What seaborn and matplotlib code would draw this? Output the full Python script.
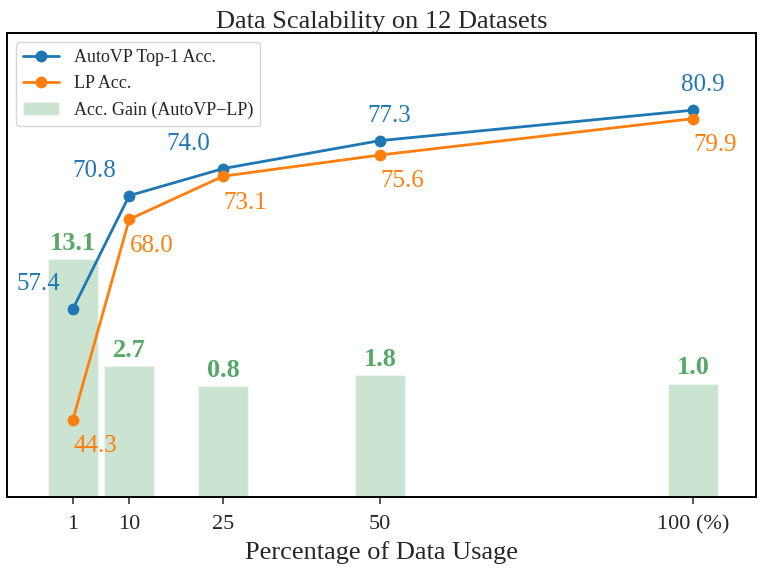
import matplotlib
matplotlib.use("Agg")
import matplotlib.pyplot as plt
import seaborn as sns
import pandas as pd

# data
usage = [1, 10, 25, 50, 100]
autovp_acc = [57.4, 70.8, 74.0, 77.3, 80.9]
lp_acc = [44.3, 68.0, 73.1, 75.6, 79.9]
gain = [13.1, 2.7, 0.8, 1.8, 1.0]
tick_labels = ["1", "10", "25", "50", "100 (%)"]

df = pd.DataFrame({"usage": usage, "AutoVP": autovp_acc, "LP": lp_acc, "gain": gain})

sns.set_style("ticks")
plt.rcParams["font.family"] = ["Liberation Serif", "DejaVu Serif"]

blue = "#1f77b4"
orange = "#ff7f0e"
green = "#55a868"

fig = plt.figure(figsize=(7.61, 5.71), dpi=100)
ax = fig.add_axes([0.0092, 0.1296, 0.9842, 0.8124])

# bars on the primary axis (behind), lines on the twin axis
# bars start at the bottom of the axis, so the gain axis starts below zero
bar_base = -10
ax.bar(df["usage"], df["gain"] - bar_base, width=8, bottom=bar_base, color=green,
       alpha=0.3, label="Acc. Gain (AutoVP\u2212LP)")
ax.set_ylim(bar_base, 35)
for x, g in zip(usage, gain):
    ax.annotate(f"{g:.1f}", (x, g), xytext=(0, 3), textcoords="offset points",
                ha="center", va="bottom", color=green, fontsize=19, fontweight="bold")

ax2 = ax.twinx()
sns.lineplot(data=df, x="usage", y="AutoVP", ax=ax2, color=blue, marker="o",
             markersize=8.5, markeredgewidth=0, linewidth=2, label="AutoVP Top-1 Acc.")
sns.lineplot(data=df, x="usage", y="LP", ax=ax2, color=orange, marker="o",
             markersize=8.5, markeredgewidth=0, linewidth=2, label="LP Acc.")
ax2.set_ylim(35.2, 90)

for i, (x, v) in enumerate(zip(usage, autovp_acc)):
    dx = -25 if i < 3 else 7
    ax2.annotate(f"{v:.1f}", (x, v), xytext=(dx, 18), textcoords="offset points",
                 ha="center", va="center", color=blue, fontsize=18)
for x, v in zip(usage, lp_acc):
    ax2.annotate(f"{v:.1f}", (x, v), xytext=(16, -19), textcoords="offset points",
                 ha="center", va="center", color=orange, fontsize=18)

ax.set_xlim(-9.5, 110)
ax.set_xticks(usage)
ax.set_xticklabels(tick_labels, fontsize=16)
ax.tick_params(axis="x", length=5, width=1.1, pad=8)
ax.set_yticks([])
ax2.set_yticks([])
ax2.set_ylabel("")
ax.set_xlabel("Percentage of Data Usage", fontsize=19, labelpad=5)
ax.set_title("Data Scalability on 12 Datasets", fontsize=19, pad=4)

for a in (ax, ax2):
    for s in a.spines.values():
        s.set_visible(True)
        s.set_color("black")
        s.set_linewidth(1.2)

h2, l2 = ax2.get_legend_handles_labels()
h1, l1 = ax.get_legend_handles_labels()
ax2.legend(h2 + h1, l2 + l1, loc="upper left", fontsize=13, frameon=True,
           fancybox=True, framealpha=0.8, edgecolor="#cccccc")

fig.savefig("out.png", dpi=100)
